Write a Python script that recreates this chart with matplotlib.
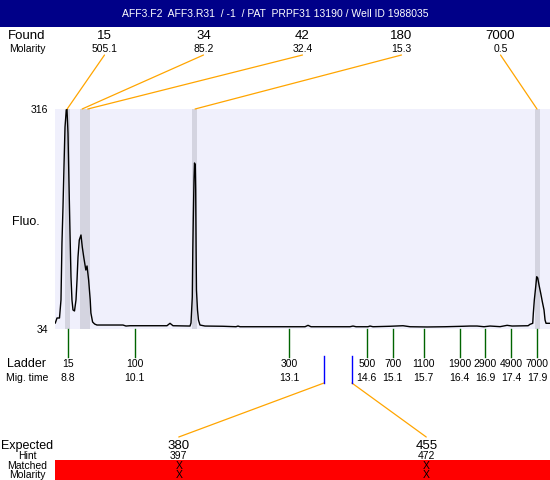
import matplotlib.pyplot as plt
from matplotlib import transforms
from matplotlib.patches import Rectangle, ConnectionPatch

plt.rcParams['font.family'] = ['Liberation Sans', 'DejaVu Sans']

title = "AFF3.F2  AFF3.R31  / -1  / PAT  PRPF31 13190 / Well ID 1988035"

# electropherogram trace (migration time, fluorescence)
mig_time = [8.560, 8.593, 8.641, 8.670, 8.689, 8.709, 8.728, 8.748, 8.773, 8.786,
            8.806, 8.825, 8.845, 8.864, 8.883, 8.903, 8.932, 8.961, 8.981, 9.000,
            9.025, 9.058, 9.083, 9.111, 9.136, 9.152, 9.175, 9.206, 9.237, 9.250,
            9.283, 9.322, 9.367, 9.426, 9.872, 9.930, 10.008, 10.725, 10.784, 10.842,
            11.172, 11.191, 11.216, 11.226, 11.235, 11.249, 11.259, 11.274, 11.282, 11.290,
            11.297, 11.317, 11.336, 11.365, 11.462, 11.811, 12.064, 12.102, 12.141, 13.402,
            13.460, 13.518, 14.274, 14.332, 14.391, 14.623, 14.662, 14.720, 15.050, 15.302,
            15.438, 15.768, 16.117, 16.466, 16.602, 16.738, 16.873, 16.990, 17.184, 17.320,
            17.417, 17.727, 17.765, 17.817, 17.829, 17.848, 17.875, 17.894, 17.914, 17.939,
            17.972, 18.003, 18.036, 18.056, 18.075, 18.152]
fluo = [41.7, 48.1, 48.1, 71.2, 144.2, 190.4, 241.7, 292.9, 314.7, 316.0,
        285.2, 221.1, 157.1, 100.7, 71.2, 58.4, 57.1, 71.2, 96.8, 126.3,
        148.1, 154.5, 139.1, 126.3, 116.0, 109.6, 114.8, 96.8, 71.2, 54.5,
        43.0, 40.4, 39.1, 39.1, 39.1, 37.8, 38.2, 38.2, 41.3, 38.2,
        37.8, 41.7, 75.0, 135.3, 173.7, 225.0, 246.8, 244.2, 212.2, 135.3,
        84.0, 58.4, 45.5, 39.1, 37.8, 37.5, 36.9, 37.8, 36.9, 36.9,
        38.7, 36.9, 36.9, 37.8, 36.9, 36.9, 37.8, 36.9, 37.5, 38.2,
        36.9, 36.6, 36.9, 37.5, 37.8, 37.8, 36.9, 37.8, 37.0, 38.7,
        37.8, 38.2, 40.0, 41.3, 54.5, 71.2, 88.2, 101.0, 99.4, 90.4,
        79.8, 69.0, 58.4, 45.5, 41.3, 41.3]

# found peaks
found_size = [15, 34, 42, 180, 7000]
found_molarity = [505.1, 85.2, 32.4, 15.3, 0.5]
found_time = [8.79, 9.08, 9.19, 11.27, 17.90]
found_start = [8.75, 9.04, 9.13, 11.21, 17.86]
found_end = [8.85, 9.14, 9.23, 11.31, 17.96]

# ladder
ladder_size = [15, 100, 300, 500, 700, 1100, 1900, 2900, 4900, 7000]
ladder_time = [8.8, 10.1, 13.1, 14.6, 15.1, 15.7, 16.4, 16.9, 17.4, 17.9]

# expected fragments
expected_size = [380, 455]
expected_hint = [397, 472]
expected_time = [13.77, 14.31]

W, H = 550, 480
px0, px1, py0, py1 = 55, 550, 109, 329
orange = '#FFA500'

fig = plt.figure(figsize=(5.5, 4.8), dpi=100)

ax = fig.add_axes([px0 / W, 1 - py1 / H, (px1 - px0) / W, (py1 - py0) / H])
ax.set_facecolor('#F0F0FC')
ax.set_xlim(8.554, 18.152)
ax.set_ylim(34, 316)
for s in ax.spines.values():
    s.set_visible(False)
ax.set_xticks([])
ax.set_yticks([34, 316], ['34', '316'], fontsize=7.5)
ax.tick_params(axis='y', length=0, pad=5)
for a, b in zip(found_start, found_end):
    ax.axvspan(a, b, color='#D4D4E0', lw=0)
ax.plot(mig_time, fluo, color='black', lw=1)

# overlay in pixel coords for the text rows
lay = fig.add_axes([0, 0, 1, 1], zorder=3)
lay.set_xlim(0, W)
lay.set_ylim(H, 0)
lay.axis('off')
blend = transforms.blended_transform_factory(ax.transData, lay.transData)

lay.add_patch(Rectangle((0, 0), W, 27, color='#000088', lw=0))
lay.text(W / 2, 14, title, color='white', ha='center', va='center', fontsize=7.5)

lay.text(27, 38.8, 'Found', ha='center', va='baseline', fontsize=9.5)
lay.text(27, 51.5, 'Molarity', ha='center', va='baseline', fontsize=7.5)
n = len(found_size)
for i, (s, m, t) in enumerate(zip(found_size, found_molarity, found_time)):
    lx = px0 + (px1 - px0) * (i + 0.5) / n
    lay.text(lx, 38.8, str(s), ha='center', va='baseline', fontsize=9.5)
    lay.text(lx, 52.5, f'{m:.1f}', ha='center', va='baseline', fontsize=7.5)
    con = ConnectionPatch(xyA=(lx, 55), coordsA=lay.transData,
                          xyB=(t, 316), coordsB=ax.transData, color=orange, lw=0.9)
    lay.add_artist(con)

lay.text(12, 225, 'Fluo.', ha='left', va='baseline', fontsize=9)

# ladder
lay.text(27, 366.7, 'Ladder', ha='center', va='baseline', fontsize=9)
lay.text(27, 380.7, 'Mig. time', ha='center', va='baseline', fontsize=7.5)
for s, t in zip(ladder_size, ladder_time):
    lay.plot([t, t], [py1, 357], transform=blend, color='#006400', lw=1)
    lay.text(t, 367, str(s), transform=blend, ha='center', va='baseline', fontsize=7.5)
    lay.text(t, 380.7, f'{t:.1f}', transform=blend, ha='center', va='baseline', fontsize=7.5)

# expected
lay.add_patch(Rectangle((px0, 460), px1 - px0, 20, color='#FF0000', lw=0))
lay.text(27, 448.5, 'Expected', ha='center', va='baseline', fontsize=9)
lay.text(27, 459, 'Hint', ha='center', va='baseline', fontsize=7.5)
lay.text(27, 469, 'Matched', ha='center', va='baseline', fontsize=7.5)
lay.text(27, 478, 'Molarity', ha='center', va='baseline', fontsize=7.5)
n = len(expected_size)
for i, (s, h, t) in enumerate(zip(expected_size, expected_hint, expected_time)):
    lx = px0 + (px1 - px0) * (i + 0.5) / n
    lay.plot([t, t], [356, 383], transform=blend, color='#0000FF', lw=1)
    con = ConnectionPatch(xyA=(t, 383), coordsA=blend,
                          xyB=(lx, 437), coordsB=lay.transData, color=orange, lw=0.9)
    lay.add_artist(con)
    lay.text(lx, 449, str(s), ha='center', va='baseline', fontsize=9.5)
    lay.text(lx, 459, str(h), ha='center', va='baseline', fontsize=7.5)
    lay.text(lx, 469, 'X', ha='center', va='baseline', fontsize=7.5)
    lay.text(lx, 478, 'X', ha='center', va='baseline', fontsize=7.5)

fig.savefig('out.png', dpi=100)
